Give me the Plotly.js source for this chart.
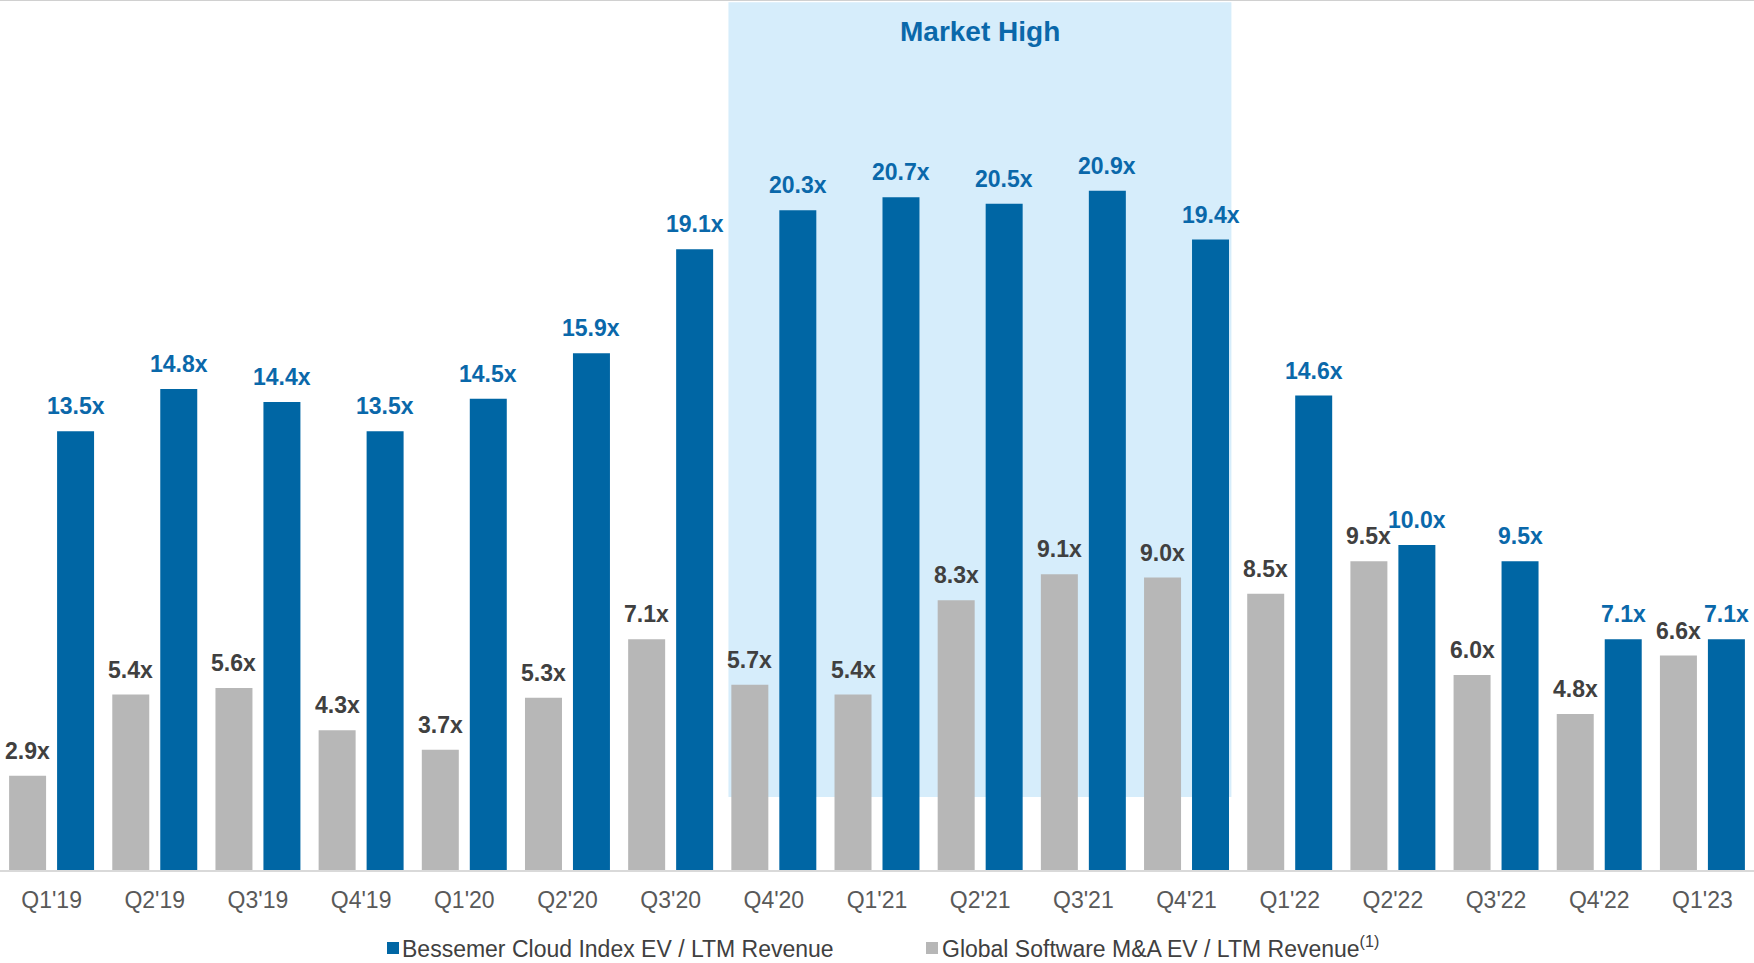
<!DOCTYPE html>
<html>
<head>
<meta charset="utf-8">
<script src="https://cdn.plot.ly/plotly-3.0.1.min.js"></script>
<style>
  html, body { margin: 0; padding: 0; background: #ffffff; }
  #chart { width: 1754px; height: 963px; }
</style>
</head>
<body>
<div id="chart"></div>
<script>
// ---- data ----
const quarters = ["Q1'19","Q2'19","Q3'19","Q4'19","Q1'20","Q2'20","Q3'20","Q4'20","Q1'21","Q2'21","Q3'21","Q4'21","Q1'22","Q2'22","Q3'22","Q4'22","Q1'23"];
const bessemerName = "Bessemer Cloud Index EV / LTM Revenue";
const globalName = "Global Software M&A EV / LTM Revenue";
const globalNote = "(1)";
const bessemerValues = [13.5, 14.8, 14.4, 13.5, 14.5, 15.9, 19.1, 20.3, 20.7, 20.5, 20.9, 19.4, 14.6, 10.0, 9.5, 7.1, 7.1];
const globalValues   = [2.9, 5.4, 5.6, 4.3, 3.7, 5.3, 7.1, 5.7, 5.4, 8.3, 9.1, 9.0, 8.5, 9.5, 6.0, 4.8, 6.6];
const highlightLabel = "Market High";
const highlightStart = "Q4'20";
const highlightEnd = "Q4'21";

// ---- styles ----
const W = 1754, H = 963, PLOT_H = 870;
const BLUE = "#0066A4";
const BLUE_TXT = "#0A68AA";
const GRAY = "#B7B7B7";
const GRAY_TXT = "#404040";
const FONT = "Liberation Sans, Arial, sans-serif";

const traces = [
  { type: "bar", name: globalName, x: quarters, y: globalValues,
    marker: { color: GRAY }, hoverinfo: "x+y" },
  { type: "bar", name: bessemerName, x: quarters, y: bessemerValues,
    marker: { color: BLUE }, hoverinfo: "x+y" }
];

const annotations = [];
const OFF = 24;
quarters.forEach((q, i) => {
  annotations.push({
    x: q, y: globalValues[i], xref: "x", yref: "y",
    text: globalValues[i].toFixed(1) + "x", showarrow: false,
    xshift: -OFF, yshift: 10, yanchor: "bottom",
    font: { family: FONT, size: 23, color: GRAY_TXT, weight: "bold" }
  });
  annotations.push({
    x: q, y: bessemerValues[i], xref: "x", yref: "y",
    text: bessemerValues[i].toFixed(1) + "x", showarrow: false,
    xshift: OFF, yshift: 10, yanchor: "bottom",
    font: { family: FONT, size: 23, color: BLUE_TXT, weight: "bold" }
  });
});

const i0 = quarters.indexOf(highlightStart) - 0.44;
const i1 = quarters.indexOf(highlightEnd) + 0.435;
annotations.push({
  x: (i0 + i1) / 2, y: 0.964, xref: "x", yref: "paper",
  text: highlightLabel, showarrow: false, yanchor: "middle",
  font: { family: FONT, size: 28, color: BLUE_TXT, weight: "bold" }
});

// legend (drawn manually so it sits exactly where the reference has it)
const px = v => v / W;
const py = v => (PLOT_H - v) / PLOT_H;
const LEG_BOTTOM = 963;
annotations.push({
  x: px(401), y: py(LEG_BOTTOM), xref: "paper", yref: "paper", xanchor: "left", yanchor: "bottom",
  text: bessemerName, showarrow: false, borderpad: 0,
  font: { family: FONT, size: 23, color: GRAY_TXT }
});
annotations.push({
  x: px(941), y: py(LEG_BOTTOM), xref: "paper", yref: "paper", xanchor: "left", yanchor: "bottom",
  text: globalName + "<sup>" + globalNote + "</sup>", showarrow: false, borderpad: 0,
  font: { family: FONT, size: 23, color: GRAY_TXT }
});

const layout = {
  width: W, height: H,
  margin: { l: 0, r: 0, t: 0, b: H - PLOT_H },
  paper_bgcolor: "#ffffff", plot_bgcolor: "rgba(0,0,0,0)",
  barmode: "group", bargap: 0.07, bargroupgap: 0.229,
  font: { family: FONT, color: GRAY_TXT },
  xaxis: {
    type: "category", range: [-0.5, quarters.length - 0.5],
    showline: true, linecolor: "#D9D9D9", linewidth: 2,
    showgrid: false, zeroline: false, ticks: "",
    tickfont: { family: FONT, size: 23, color: "#595959" },
    ticklabelstandoff: 8, fixedrange: true
  },
  yaxis: {
    range: [0, 26.77], visible: false, showgrid: false, zeroline: false, fixedrange: true
  },
  showlegend: false,
  shapes: [
    { type: "rect", layer: "below", xref: "x", yref: "y",
      x0: i0, x1: i1, y0: 2.25, y1: 26.7,
      fillcolor: "#D6EDFB", line: { width: 0 } },
    { type: "line", xref: "paper", yref: "paper", x0: 0, x1: 1, y0: 1, y1: 1,
      line: { color: "#D0D0D0", width: 2 } },
    { type: "rect", xref: "paper", yref: "paper",
      x0: px(387), x1: px(399), y0: py(954), y1: py(942),
      fillcolor: BLUE, line: { width: 0 } },
    { type: "rect", xref: "paper", yref: "paper",
      x0: px(926), x1: px(938), y0: py(954), y1: py(942),
      fillcolor: GRAY, line: { width: 0 } }
  ],
  annotations: annotations
};

Plotly.newPlot("chart", traces, layout, { displayModeBar: false, responsive: false });
</script>
</body>
</html>
